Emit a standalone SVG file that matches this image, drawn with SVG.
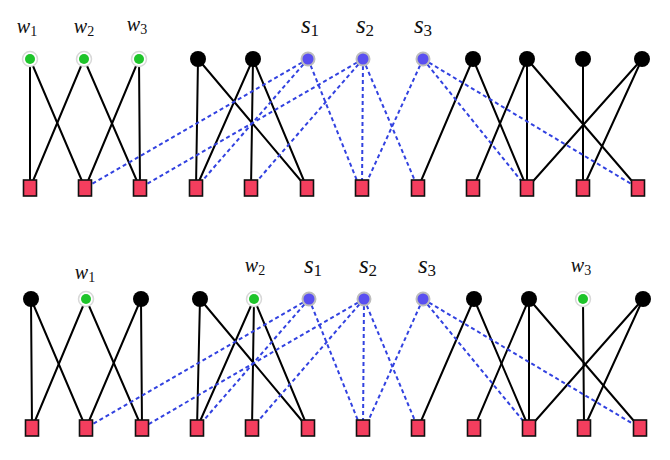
<svg xmlns="http://www.w3.org/2000/svg" xmlns:xlink="http://www.w3.org/1999/xlink" width="670" height="460" viewBox="0 0 670 460">
<style>
.e{stroke:#000;stroke-width:2;fill:none;stroke-linecap:round}
.d{stroke:#3242e0;stroke-width:2;fill:none;stroke-dasharray:4 3}
.blk{fill:#000}
.halo{fill:#fff;stroke:#d8d8d8;stroke-width:1.5}
.grn{fill:#1ec42a}
.blu{fill:#5a4ff0;stroke:#bdbdbd;stroke-width:2}
.sq{fill:#f43e5e;stroke:#111;stroke-width:1.6}
.lw{font-family:'Liberation Serif','DejaVu Serif',serif;font-style:italic;font-size:20px;fill:#111}
.ls{font-family:'Liberation Serif','DejaVu Serif',serif;font-style:italic;font-size:25px;fill:#111}
.sub{font-style:normal;font-size:14px}
.subs{font-style:normal;font-size:17px}
</style>
<defs>
<g id="tB"><circle r="8" class="blk"/></g>
<g id="tG"><circle r="7.5" class="halo"/><circle r="5" class="grn"/></g>
<g id="tS"><circle r="6.5" class="blu"/></g>
<g id="tQ"><rect x="-6.5" y="-8" width="13" height="16" class="sq"/></g>
</defs>
<g id="connectors">
<line class="e" x1="30" y1="59" x2="30" y2="188"/>
<line class="e" x1="30" y1="59" x2="85" y2="188"/>
<line class="e" x1="84" y1="59" x2="30" y2="188"/>
<line class="e" x1="84" y1="59" x2="140" y2="188"/>
<line class="e" x1="139" y1="59" x2="85" y2="188"/>
<line class="e" x1="139" y1="59" x2="140" y2="188"/>
<line class="e" x1="198" y1="59" x2="196" y2="188"/>
<line class="e" x1="198" y1="59" x2="307" y2="188"/>
<line class="e" x1="253" y1="59" x2="196" y2="188"/>
<line class="e" x1="253" y1="59" x2="251" y2="188"/>
<line class="e" x1="253" y1="59" x2="307" y2="188"/>
<line class="e" x1="473" y1="59" x2="418" y2="188"/>
<line class="e" x1="473" y1="59" x2="527" y2="188"/>
<line class="e" x1="527" y1="59" x2="473" y2="188"/>
<line class="e" x1="527" y1="59" x2="527" y2="188"/>
<line class="e" x1="527" y1="59" x2="638" y2="188"/>
<line class="e" x1="583" y1="59" x2="583" y2="188"/>
<line class="e" x1="642" y1="59" x2="527" y2="188"/>
<line class="e" x1="642" y1="59" x2="583" y2="188"/>
<line class="d" x1="308" y1="59" x2="85" y2="188"/>
<line class="d" x1="308" y1="59" x2="196" y2="188"/>
<line class="d" x1="308" y1="59" x2="360" y2="188"/>
<line class="d" x1="363" y1="59" x2="140" y2="188"/>
<line class="d" x1="363" y1="59" x2="251" y2="188"/>
<line class="d" x1="363" y1="59" x2="362" y2="188"/>
<line class="d" x1="363" y1="59" x2="418" y2="188"/>
<line class="d" x1="423" y1="59" x2="364" y2="188"/>
<line class="d" x1="423" y1="59" x2="527" y2="188"/>
<line class="d" x1="423" y1="59" x2="638" y2="188"/>
<line class="e" x1="31" y1="299" x2="32" y2="428"/>
<line class="e" x1="31" y1="299" x2="86" y2="428"/>
<line class="e" x1="86" y1="299" x2="32" y2="428"/>
<line class="e" x1="86" y1="299" x2="142" y2="428"/>
<line class="e" x1="141" y1="299" x2="86" y2="428"/>
<line class="e" x1="141" y1="299" x2="142" y2="428"/>
<line class="e" x1="200" y1="299" x2="197" y2="428"/>
<line class="e" x1="200" y1="299" x2="308" y2="428"/>
<line class="e" x1="254" y1="299" x2="197" y2="428"/>
<line class="e" x1="254" y1="299" x2="252" y2="428"/>
<line class="e" x1="254" y1="299" x2="308" y2="428"/>
<line class="e" x1="474" y1="299" x2="418" y2="428"/>
<line class="e" x1="474" y1="299" x2="529" y2="428"/>
<line class="e" x1="529" y1="299" x2="474" y2="428"/>
<line class="e" x1="529" y1="299" x2="529" y2="428"/>
<line class="e" x1="529" y1="299" x2="640" y2="428"/>
<line class="e" x1="583" y1="299" x2="584" y2="428"/>
<line class="e" x1="643" y1="299" x2="529" y2="428"/>
<line class="e" x1="643" y1="299" x2="584" y2="428"/>
<line class="d" x1="309" y1="299" x2="86" y2="428"/>
<line class="d" x1="309" y1="299" x2="197" y2="428"/>
<line class="d" x1="309" y1="299" x2="361" y2="428"/>
<line class="d" x1="364" y1="299" x2="142" y2="428"/>
<line class="d" x1="364" y1="299" x2="252" y2="428"/>
<line class="d" x1="364" y1="299" x2="363" y2="428"/>
<line class="d" x1="364" y1="299" x2="418" y2="428"/>
<line class="d" x1="423" y1="299" x2="365" y2="428"/>
<line class="d" x1="423" y1="299" x2="529" y2="428"/>
<line class="d" x1="423" y1="299" x2="640" y2="428"/>
</g>
<g id="top-w1"><use href="#tG" x="30" y="59"/><text class="lw" x="27" y="33" text-anchor="middle">w<tspan class="sub" dy="3">1</tspan></text></g>
<g id="top-w2"><use href="#tG" x="84" y="59"/><text class="lw" x="84" y="33" text-anchor="middle">w<tspan class="sub" dy="3">2</tspan></text></g>
<g id="top-w3"><use href="#tG" x="139" y="59"/><text class="lw" x="137" y="31" text-anchor="middle">w<tspan class="sub" dy="3">3</tspan></text></g>
<g id="top-b4"><use href="#tB" x="198" y="59"/></g>
<g id="top-b5"><use href="#tB" x="253" y="59"/></g>
<g id="top-s1"><use href="#tS" x="308" y="59"/><text class="ls" x="310" y="33" text-anchor="middle">s<tspan class="subs" dy="3">1</tspan></text></g>
<g id="top-s2"><use href="#tS" x="363" y="59"/><text class="ls" x="365" y="33" text-anchor="middle">s<tspan class="subs" dy="3">2</tspan></text></g>
<g id="top-s3"><use href="#tS" x="423" y="59"/><text class="ls" x="423" y="33" text-anchor="middle">s<tspan class="subs" dy="3">3</tspan></text></g>
<g id="top-b9"><use href="#tB" x="473" y="59"/></g>
<g id="top-b10"><use href="#tB" x="527" y="59"/></g>
<g id="top-b11"><use href="#tB" x="583" y="59"/></g>
<g id="top-b12"><use href="#tB" x="642" y="59"/></g>
<g id="top-q1"><use href="#tQ" x="30" y="188"/></g>
<g id="top-q2"><use href="#tQ" x="85" y="188"/></g>
<g id="top-q3"><use href="#tQ" x="140" y="188"/></g>
<g id="top-q4"><use href="#tQ" x="196" y="188"/></g>
<g id="top-q5"><use href="#tQ" x="251" y="188"/></g>
<g id="top-q6"><use href="#tQ" x="307" y="188"/></g>
<g id="top-q7"><use href="#tQ" x="362" y="188"/></g>
<g id="top-q8"><use href="#tQ" x="418" y="188"/></g>
<g id="top-q9"><use href="#tQ" x="473" y="188"/></g>
<g id="top-q10"><use href="#tQ" x="527" y="188"/></g>
<g id="top-q11"><use href="#tQ" x="583" y="188"/></g>
<g id="top-q12"><use href="#tQ" x="638" y="188"/></g>
<g id="bot-b1"><use href="#tB" x="31" y="299"/></g>
<g id="bot-w1"><use href="#tG" x="86" y="299"/><text class="lw" x="85" y="279" text-anchor="middle">w<tspan class="sub" dy="3">1</tspan></text></g>
<g id="bot-b3"><use href="#tB" x="141" y="299"/></g>
<g id="bot-b4"><use href="#tB" x="200" y="299"/></g>
<g id="bot-w2"><use href="#tG" x="254" y="299"/><text class="lw" x="255" y="272" text-anchor="middle">w<tspan class="sub" dy="3">2</tspan></text></g>
<g id="bot-s1"><use href="#tS" x="309" y="299"/><text class="ls" x="313" y="273" text-anchor="middle">s<tspan class="subs" dy="3">1</tspan></text></g>
<g id="bot-s2"><use href="#tS" x="364" y="299"/><text class="ls" x="368" y="273" text-anchor="middle">s<tspan class="subs" dy="3">2</tspan></text></g>
<g id="bot-s3"><use href="#tS" x="423" y="299"/><text class="ls" x="427" y="273" text-anchor="middle">s<tspan class="subs" dy="3">3</tspan></text></g>
<g id="bot-b9"><use href="#tB" x="474" y="299"/></g>
<g id="bot-b10"><use href="#tB" x="529" y="299"/></g>
<g id="bot-w3"><use href="#tG" x="583" y="299"/><text class="lw" x="581" y="272" text-anchor="middle">w<tspan class="sub" dy="3">3</tspan></text></g>
<g id="bot-b12"><use href="#tB" x="643" y="299"/></g>
<g id="bot-q1"><use href="#tQ" x="32" y="428"/></g>
<g id="bot-q2"><use href="#tQ" x="86" y="428"/></g>
<g id="bot-q3"><use href="#tQ" x="142" y="428"/></g>
<g id="bot-q4"><use href="#tQ" x="197" y="428"/></g>
<g id="bot-q5"><use href="#tQ" x="252" y="428"/></g>
<g id="bot-q6"><use href="#tQ" x="308" y="428"/></g>
<g id="bot-q7"><use href="#tQ" x="363" y="428"/></g>
<g id="bot-q8"><use href="#tQ" x="418" y="428"/></g>
<g id="bot-q9"><use href="#tQ" x="474" y="428"/></g>
<g id="bot-q10"><use href="#tQ" x="529" y="428"/></g>
<g id="bot-q11"><use href="#tQ" x="584" y="428"/></g>
<g id="bot-q12"><use href="#tQ" x="640" y="428"/></g>
</svg>
